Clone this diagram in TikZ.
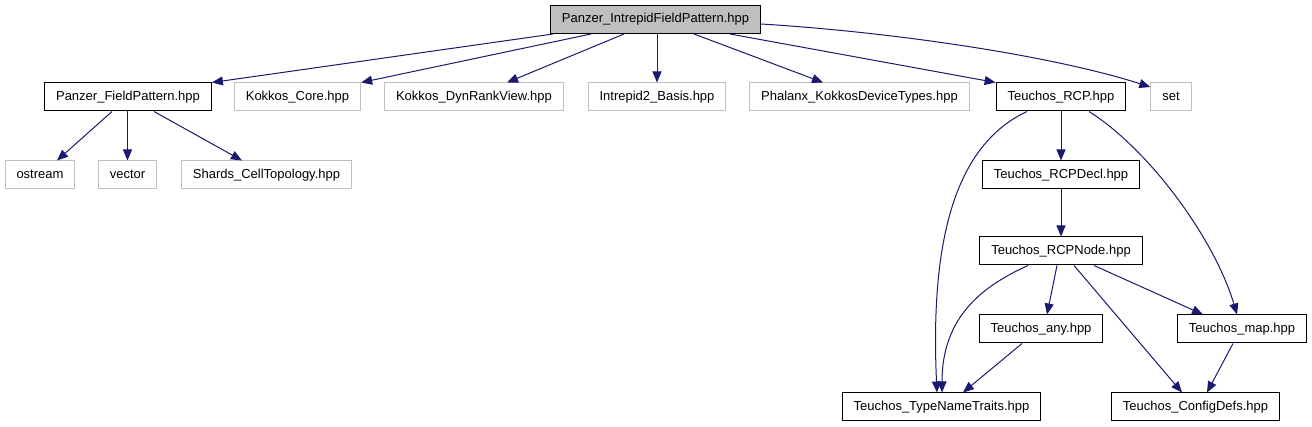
\documentclass[tikz,border=0pt]{standalone}
\usepackage{fontspec}
\setmainfont{Liberation Sans}
\usepackage{color}
\usetikzlibrary{arrows.meta}
\definecolor{edgeblue}{HTML}{191970}
\definecolor{boxgray}{HTML}{BFBFBF}

\begin{document}
\begin{tikzpicture}[x=1pt,y=-1pt]
      \tikzstyle{file}=[rectangle,minimum height=28pt,inner xsep=11.5pt,inner ysep=0pt,
        text height=9.5pt,text depth=3pt,font=\fontsize{13}{15}\selectfont,line width=1pt]
      \tikzstyle{hdr}=[file,draw=black]
      \tikzstyle{sys}=[file,draw=boxgray]
      \tikzstyle{top}=[hdr,fill=boxgray]
      \tikzstyle{inc}=[draw=edgeblue,line width=1pt,-{Triangle[length=11pt,width=9pt]}]
      \useasboundingbox (0,0) rectangle (1312,427);
      \node[top] (root) at (655.5,19.5) {Panzer\_IntrepidFieldPattern.hpp};
      \node[hdr] (fp) at (128,97) {Panzer\_FieldPattern.hpp};
      \node[sys] (core) at (297.5,97) {Kokkos\_Core.hpp};
      \node[sys] (dyn) at (474,97) {Kokkos\_DynRankView.hpp};
      \node[sys] (basis) at (657,97) {Intrepid2\_Basis.hpp};
      \node[sys] (phx) at (859.5,97) {Phalanx\_KokkosDeviceTypes.hpp};
      \node[hdr] (rcp) at (1061,97) {Teuchos\_RCP.hpp};
      \node[sys] (set) at (1171,97) {set};
      \node[sys] (ostr) at (40,175) {ostream};
      \node[sys] (vec) at (127.5,175) {vector};
      \node[sys] (topo) at (266.5,175) {Shards\_CellTopology.hpp};
      \node[hdr] (decl) at (1061,175) {Teuchos\_RCPDecl.hpp};
      \node[hdr] (rcpn) at (1061,251) {Teuchos\_RCPNode.hpp};
      \node[hdr] (any) at (1041,329) {Teuchos\_any.hpp};
      \node[hdr] (map) at (1242,329) {Teuchos\_map.hpp};
      \node[hdr] (tnt) at (941.5,407) {Teuchos\_TypeNameTraits.hpp};
      \node[hdr] (cfg) at (1195.5,407) {Teuchos\_ConfigDefs.hpp};
      % top level includes
      \draw[inc] ([xshift=-102.5pt]root.south) -- (fp.north east);
      \draw[inc] ([xshift=-64.5pt]root.south) -- (core.north east);
      \draw[inc] ([xshift=-31.5pt]root.south) -- ([xshift=33pt]dyn.north);
      \draw[inc] (root.south -| basis.north) -- (basis.north);
      \draw[inc] ([xshift=38.5pt]root.south) -- ([xshift=-36.5pt]phx.north);
      \draw[inc] ([xshift=74.5pt]root.south) -- (rcp.north west);
      \draw[inc] ([yshift=-4.5pt]root.east) .. controls (891,32) and (1050,55) .. ([yshift=10pt]set.west);
      \draw[inc] ([xshift=-16pt]fp.south) -- ([xshift=17pt]ostr.north);
      \draw[inc] (fp.south -| vec.north) -- (vec.north);
      \draw[inc] ([xshift=26pt]fp.south) -- ([xshift=-24.5pt]topo.north);
      % teuchos
      \draw[inc] (rcp.south) -- (decl.north);
      \draw[inc] ([xshift=-34pt]rcp.south) .. controls (955,145) and (930,240) .. ([xshift=-4.5pt]tnt.north);
      \draw[inc] ([xshift=28pt]rcp.south) .. controls (1150,150) and (1215,240) .. ([xshift=-5pt]map.north);
      \draw[inc] (decl.south) -- (rcpn.north);
      \draw[inc] ([xshift=-33pt]rcpn.south) .. controls (985,285) and (942,315) .. ([xshift=0.5pt]tnt.north);
      \draw[inc] ([xshift=-4pt]rcpn.south) -- ([xshift=6pt]any.north);
      \draw[inc] ([xshift=13pt]rcpn.south) -- ([xshift=-13.5pt]cfg.north);
      \draw[inc] ([xshift=33pt]rcpn.south) -- ([xshift=-39pt]map.north);
      \draw[inc] ([xshift=-19pt]any.south) -- ([xshift=21.5pt]tnt.north);
      \draw[inc] ([xshift=-9pt]map.south) -- ([xshift=11.5pt]cfg.north);
\end{tikzpicture}
\end{document}
